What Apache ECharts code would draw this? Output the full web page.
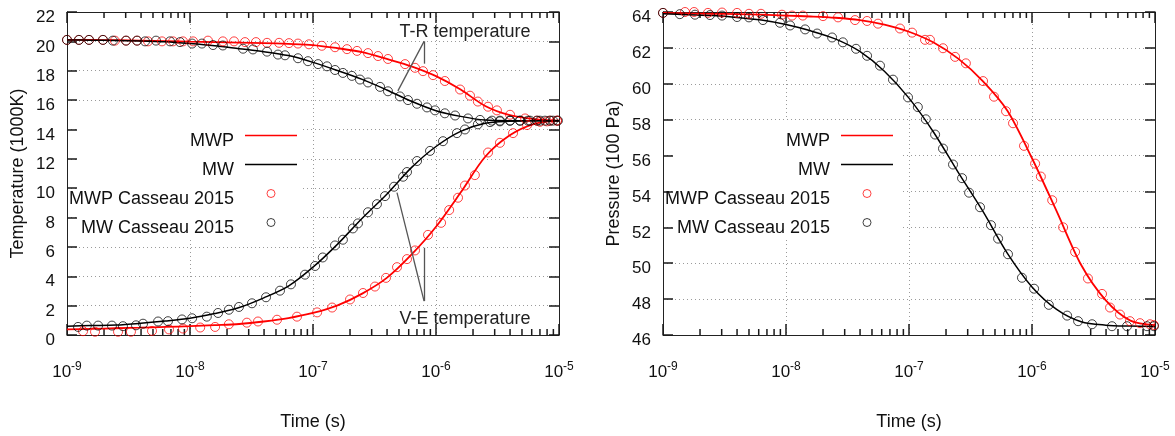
<!DOCTYPE html>
<html>
<head>
<meta charset="utf-8">
<script src="https://cdn.jsdelivr.net/npm/echarts@6/dist/echarts.min.js"></script>
<style>
html, body { margin: 0; padding: 0; background: #fff; }
#chart { width: 1175px; height: 436px; }
</style>
</head>
<body>
<div id="chart"></div>
<script>
// time grid (s) for the model curves
var tLine = [1e-9, 1.585e-9, 2.512e-9, 3.981e-9, 6.31e-9, 1e-8, 1.585e-8, 2.512e-8, 3.981e-8, 6.31e-8,
    1e-7, 1.585e-7, 2.512e-7, 3.981e-7, 6.31e-7, 1e-6, 1.585e-6, 2.512e-6, 3.981e-6, 6.31e-6, 1e-5]

// temperatures (1000K)
var trMwp = [20.1, 20.1, 20.08, 20.05, 20.02, 19.98, 19.95, 19.92, 19.88, 19.83, 19.75, 19.53, 19.27, 18.8, 18.3, 17.63, 16.72, 15.6, 14.97, 14.7, 14.6]
var trMw = [20.1, 20.08, 20.06, 20.03, 19.97, 19.85, 19.7, 19.5, 19.3, 19.03, 18.57, 18.01, 17.41, 16.69, 15.92, 15.28, 14.89, 14.64, 14.6, 14.6, 14.6]
var veMwp = [0.38, 0.42, 0.46, 0.5, 0.55, 0.6, 0.67, 0.75, 0.92, 1.15, 1.5, 2.02, 2.82, 3.89, 5.47, 7.37, 9.7, 12.14, 13.6, 14.38, 14.6]
var veMw = [0.6, 0.64, 0.68, 0.8, 0.95, 1.14, 1.46, 1.87, 2.53, 3.33, 4.62, 6.19, 7.95, 9.59, 11.4, 12.84, 13.87, 14.42, 14.56, 14.6, 14.6]

// pressures (100 Pa)
var pMwp = [63.95, 63.92, 63.9, 63.88, 63.85, 63.8, 63.75, 63.68, 63.55, 63.3, 62.9, 62.3, 61.4, 60.15, 58.5, 55.85, 52.9, 49.9, 47.93, 46.8, 46.55]
var pMw = [63.9, 63.85, 63.8, 63.7, 63.55, 63.3, 62.95, 62.5, 61.8, 60.7, 59.2, 57.3, 55.06, 52.9, 50.55, 48.68, 47.43, 46.74, 46.55, 46.5, 46.48]

// Casseau 2015 points [t, value]
var casTrMwp = [[1.0e-9, 20.1], [1.25e-9, 20.1], [1.51e-9, 20.1], [1.96e-9, 20.1], [2.45e-9, 20.05], [3.02e-9, 20.05], [3.71e-9, 20.05], [4.56e-9, 20.0],
    [5.92e-9, 20.0], [7.28e-9, 20.0], [8.77e-9, 20.0], [1.06e-8, 20.0], [1.4e-8, 20.05], [1.85e-8, 20.0], [2.28e-8, 20.0], [2.8e-8, 19.95],
    [3.44e-8, 19.95], [4.23e-8, 19.9], [5.3e-8, 19.9], [6.38e-8, 19.88], [7.55e-8, 19.85], [9.27e-8, 19.8], [1.18e-7, 19.7], [1.51e-7, 19.6],
    [1.89e-7, 19.47], [2.28e-7, 19.35], [2.8e-7, 19.2], [3.38e-7, 19.0], [4.07e-7, 18.8], [5.6e-7, 18.45], [6.75e-7, 18.2], [7.84e-7, 17.97],
    [9.46e-7, 17.7], [1.18e-6, 17.3], [1.57e-6, 16.72], [1.89e-6, 16.3], [2.19e-6, 15.9], [2.65e-6, 15.55], [3.13e-6, 15.3], [4.0e-6, 15.0],
    [5.3e-6, 14.75], [6.62e-6, 14.6], [7.98e-6, 14.55], [9.64e-6, 14.6]]
var casTrMw = [[1.0e-9, 20.1], [1.25e-9, 20.1], [1.51e-9, 20.1], [1.96e-9, 20.1], [2.36e-9, 20.05], [3.02e-9, 20.05], [3.71e-9, 20.05], [4.31e-9, 20.0],
    [5.29e-9, 20.05], [6.88e-9, 20.0], [8.29e-9, 19.95], [1.04e-8, 19.85], [1.25e-8, 19.85], [1.54e-8, 19.75], [1.85e-8, 19.72], [2.7e-8, 19.5],
    [3.25e-8, 19.45], [4.23e-8, 19.3], [5.19e-8, 19.1], [5.92e-8, 19.05], [7.55e-8, 18.85], [9.1e-8, 18.65], [1.1e-7, 18.45], [1.3e-7, 18.3],
    [1.51e-7, 18.05], [1.75e-7, 17.85], [2.07e-7, 17.65], [2.41e-7, 17.4], [2.8e-7, 17.2], [3.51e-7, 16.9], [4.07e-7, 16.6], [5.09e-7, 16.25],
    [5.92e-7, 16.0], [7.01e-7, 15.75], [8.45e-7, 15.5], [9.82e-7, 15.3], [1.18e-6, 15.1], [1.43e-6, 14.95], [1.82e-6, 14.75], [2.28e-6, 14.65],
    [2.85e-6, 14.6], [3.31e-6, 14.6], [4.0e-6, 14.6], [4.82e-6, 14.6], [5.6e-6, 14.6], [6.62e-6, 14.6], [7.69e-6, 14.6], [8.94e-6, 14.6]]
var casVeMwp = [[1.35e-9, 0.26], [1.69e-9, 0.22], [2.6e-9, 0.22], [3.31e-9, 0.22], [4.91e-9, 0.28], [6.75e-9, 0.38], [8.77e-9, 0.44], [1.21e-8, 0.51],
    [1.6e-8, 0.55], [2.07e-8, 0.73], [2.9e-8, 0.84], [3.57e-8, 0.92], [5.1e-8, 1.04], [7.41e-8, 1.25], [1.08e-7, 1.54], [1.43e-7, 1.87],
    [2.0e-7, 2.42], [2.55e-7, 2.86], [3.19e-7, 3.3], [3.92e-7, 3.89], [4.82e-7, 4.62], [5.81e-7, 5.17], [6.75e-7, 5.76], [8.61e-7, 6.82],
    [1.1e-6, 7.64], [1.28e-6, 8.51], [1.51e-6, 9.35], [1.72e-6, 10.18], [2.07e-6, 10.89], [2.65e-6, 12.43], [3.31e-6, 13.09], [4.23e-6, 13.75],
    [5.5e-6, 14.3], [7.01e-6, 14.52], [8.45e-6, 14.6], [9.64e-6, 14.6]]
var casVeMw = [[1.23e-9, 0.55], [1.45e-9, 0.64], [1.79e-9, 0.64], [2.32e-9, 0.64], [2.85e-9, 0.6], [3.64e-9, 0.66], [4.15e-9, 0.77], [5.5e-9, 0.92],
    [6.62e-9, 0.94], [8.61e-9, 1.06], [1.04e-8, 1.14], [1.37e-8, 1.25], [1.69e-8, 1.5], [2.07e-8, 1.72], [2.5e-8, 1.91], [3.19e-8, 2.16],
    [4.15e-8, 2.57], [5.39e-8, 3.02], [6.62e-8, 3.45], [8.61e-8, 4.11], [1.04e-7, 4.7], [1.2e-7, 5.28], [1.51e-7, 6.1], [1.75e-7, 6.49],
    [2.11e-7, 7.26], [2.32e-7, 7.6], [2.8e-7, 8.36], [3.31e-7, 8.91], [3.85e-7, 9.46], [4.56e-7, 10.1], [5.4e-7, 10.78], [5.81e-7, 11.1],
    [7.01e-7, 11.85], [8.94e-7, 12.54], [1.14e-6, 13.2], [1.48e-6, 13.75], [1.72e-6, 14.0], [2.19e-6, 14.35], [2.75e-6, 14.5], [3.31e-6, 14.55],
    [4.0e-6, 14.6], [4.82e-6, 14.6], [5.81e-6, 14.6], [7.01e-6, 14.6], [8.45e-6, 14.6], [9.8e-6, 14.6]]
var casPMwp = [[1.0e-9, 63.95], [1.51e-9, 64.0], [1.79e-9, 64.0], [2.32e-9, 63.95], [3.02e-9, 63.97], [4.0e-9, 63.95], [5.0e-9, 63.9], [6.26e-9, 63.9],
    [9.27e-9, 63.85], [1.12e-8, 63.8], [1.37e-8, 63.8], [2.0e-8, 63.77], [2.65e-8, 63.7], [3.64e-8, 63.55], [4.56e-8, 63.5], [5.6e-8, 63.35],
    [8.45e-8, 63.08], [1.06e-7, 62.85], [1.35e-7, 62.45], [1.48e-7, 62.45], [1.89e-7, 61.98], [2.37e-7, 61.5], [2.9e-7, 61.14], [4.0e-7, 60.15],
    [4.91e-7, 59.28], [6.15e-7, 58.47], [7.01e-7, 57.8], [8.61e-7, 56.54], [1.06e-6, 55.55], [1.18e-6, 54.83], [1.46e-6, 53.51], [1.79e-6, 52.0],
    [2.24e-6, 50.63], [2.85e-6, 49.15], [3.71e-6, 48.29], [4.31e-6, 47.53], [5.19e-6, 47.14], [6.26e-6, 46.77], [7.55e-6, 46.66], [9.1e-6, 46.6],
    [9.8e-6, 46.55]]
var casPMw = [[1.0e-9, 63.95], [1.37e-9, 63.88], [1.82e-9, 63.85], [2.41e-9, 63.83], [3.02e-9, 63.8], [4.0e-9, 63.72], [5.0e-9, 63.7], [6.5e-9, 63.55],
    [8.93e-9, 63.4], [1.08e-8, 63.25], [1.43e-8, 63.03], [1.79e-8, 62.8], [2.37e-8, 62.58], [2.9e-8, 62.31], [3.71e-8, 61.95], [4.56e-8, 61.56],
    [5.81e-8, 61.01], [7.41e-8, 60.23], [9.82e-8, 59.24], [1.18e-7, 58.7], [1.37e-7, 58.02], [1.63e-7, 57.17], [1.89e-7, 56.39], [2.28e-7, 55.5],
    [2.7e-7, 54.74], [3.08e-7, 53.93], [3.78e-7, 53.12], [4.64e-7, 52.12], [5.3e-7, 51.37], [6.38e-7, 50.5], [8.29e-7, 49.19], [1.04e-6, 48.58],
    [1.37e-6, 47.68], [1.93e-6, 47.08], [2.37e-6, 46.77], [3.08e-6, 46.6], [4.47e-6, 46.49], [5.92e-6, 46.49], [8.61e-6, 46.49], [9.8e-6, 46.49]]

var lineNames = ['MWP', 'MW']
var pointNames = ['MWP Casseau 2015', 'MW Casseau 2015']

// tick positions on the time axes
var majorTicks = [1e-9, 1e-8, 1e-7, 1e-6, 1e-5]
var minorTicks = []
for (var e = -9; e < -5; e++) {
    for (var k = 2; k < 10; k++) {
        minorTicks.push(k * Math.pow(10, e))
    }
}

var FONT = 'Liberation Sans'
var RED = '#ff0000'
var BLACK = '#000000'
var INK = '#111'
var TICK = '#1a1a1a'

function gridLine () {
    return { show: true, lineStyle: { color: '#9a9a9a', type: [1, 3], width: 1 } }
}

function pairs (ts, vs) {
    return ts.map(function (t, i) { return [t, vs[i]] })
}

function timeAxis (gi, pos) {
    var main = pos === 'bottom'
    return {
        type: 'log', gridIndex: gi, position: pos, min: 1e-9, max: 1e-5, logBase: 10,
        axisLine: { onZero: false, lineStyle: { color: '#222', width: 1 } },
        axisTick: { show: false },
        splitLine: main ? gridLine() : { show: false },
        axisLabel: {
            show: main, margin: 26, color: INK,
            formatter: function (v) {
                return '{b|10}{s|' + Math.round(Math.log10(v)) + '}'
            },
            rich: {
                b: { fontSize: 17, fontFamily: FONT, color: INK, lineHeight: 22 },
                s: { fontSize: 12, fontFamily: FONT, color: INK, verticalAlign: 'top', lineHeight: 12 }
            }
        },
        name: main ? 'Time (s)' : '',
        nameLocation: 'middle', nameGap: 78,
        nameTextStyle: { fontSize: 18, fontFamily: FONT, color: INK }
    }
}

function valueAxis (gi, pos, lo, hi, title) {
    var main = pos === 'left'
    return {
        type: 'value', gridIndex: gi, position: pos, min: lo, max: hi, interval: 2,
        axisLine: { show: true, onZero: false, lineStyle: { color: '#222', width: 1 } },
        axisTick: { show: true, inside: true, length: 10, lineStyle: { color: TICK, width: 1.5 } },
        splitLine: main ? gridLine() : { show: false },
        axisLabel: {
            show: main, margin: 12,
            // gnuplot sets its numbers a little below the tick
            formatter: function (v) { return '{g|}{v|' + v + '}' },
            rich: {
                g: { lineHeight: 28, width: 0 },
                v: { fontSize: 17, fontFamily: FONT, color: INK, lineHeight: 18, verticalAlign: 'bottom' }
            }
        },
        name: main ? title : '',
        nameLocation: 'middle', nameGap: 40,
        nameTextStyle: { fontSize: 18, fontFamily: FONT, color: INK }
    }
}

function modelLine (name, data, color, xi) {
    return {
        name: name, type: 'line', xAxisIndex: xi, yAxisIndex: xi, data: data,
        showSymbol: false, symbol: 'none', smooth: 0.3,
        lineStyle: { color: color, width: color === RED ? 1.8 : 1.5 },
        itemStyle: { color: color },
        silent: true, z: 3
    }
}

function casseau (name, data, color, xi) {
    return {
        name: name, type: 'scatter', xAxisIndex: xi, yAxisIndex: xi, data: data,
        symbol: 'circle', symbolSize: 9,
        itemStyle: { color: 'none', borderColor: color, borderWidth: 1, opacity: 0.75 },
        silent: true, z: 4
    }
}

// ticks on the log time axes, at bottom and top, pointing inward
function tickSeries (xi, lo, hi, values, len) {
    return {
        type: 'custom', xAxisIndex: xi, yAxisIndex: xi,
        data: values.map(function (v) { return [v, lo] }),
        encode: { x: 0, y: 1 },
        renderItem: function (params, api) {
            var v = api.value(0)
            var p0 = api.coord([v, lo])
            var p1 = api.coord([v, hi])
            return {
                type: 'group',
                children: [
                    { type: 'line', shape: { x1: p0[0], y1: p0[1], x2: p0[0], y2: p0[1] - len }, style: { stroke: TICK, lineWidth: 1.5 } },
                    { type: 'line', shape: { x1: p1[0], y1: p1[1], x2: p1[0], y2: p1[1] + len }, style: { stroke: TICK, lineWidth: 1.5 } }
                ]
            }
        }
    }
}

// key: icons and labels are two legends so the labels can sit a bit lower, like gnuplot
function legendIcons (right) {
    var lineIcon = 'path://M0,0 H40 V1 H0 Z'
    return {
        orient: 'vertical', align: 'right', right: right, top: 121, padding: 0,
        itemWidth: 52, itemHeight: 8, itemGap: 0, selectedMode: false,
        formatter: function () { return ' ' },
        textStyle: { fontSize: 18, lineHeight: 29 },
        data: [
            { name: lineNames[0], icon: lineIcon },
            { name: lineNames[1], icon: lineIcon },
            { name: pointNames[0], itemStyle: { borderWidth: 1 } },
            { name: pointNames[1], itemStyle: { borderWidth: 1 } }
        ]
    }
}

function legendLabels (right) {
    return {
        orient: 'vertical', align: 'right', right: right + 58, top: 127, padding: 0,
        itemWidth: 52, itemHeight: 7, itemGap: 0, selectedMode: false,
        textStyle: { fontSize: 18, fontFamily: FONT, color: INK, lineHeight: 29 },
        data: lineNames.concat(pointNames).map(function (n) { return { name: n, icon: 'none' } })
    }
}

var ARROW = 'path://M0,0 L0,0 M20,0 L20,0 M10,0 L15,20 L13.8,20 L10,3.5 L6.2,20 L5,20 Z'

var chart = echarts.init(document.getElementById('chart'))
chart.setOption({
    animation: false,
    textStyle: { fontFamily: FONT },
    grid: [
        { left: 67, top: 12, width: 492, height: 333 },
        { left: 663, top: 12, width: 492, height: 333 }
    ],
    xAxis: [timeAxis(0, 'bottom'), timeAxis(0, 'top'), timeAxis(1, 'bottom'), timeAxis(1, 'top')],
    yAxis: [
        valueAxis(0, 'left', 0, 22, 'Temperature (1000K)'),
        valueAxis(0, 'right', 0, 22, ''),
        valueAxis(1, 'left', 46, 64, 'Pressure (100 Pa)'),
        valueAxis(1, 'right', 46, 64, '')
    ],
    legend: [legendIcons(878), legendLabels(878), legendIcons(282), legendLabels(282)],
    // blank the grid behind each key, as gnuplot does
    graphic: {
        elements: [
            { type: 'rect', z: 1, silent: true, shape: { x: 78, y: 120, width: 225, height: 119 }, style: { fill: '#fff' } },
            { type: 'rect', z: 1, silent: true, shape: { x: 674, y: 120, width: 226, height: 119 }, style: { fill: '#fff' } }
        ]
    },
    series: [
        (function () {
            var s = modelLine('MWP', pairs(tLine, trMwp), RED, 0)
            s.markLine = {
                silent: true, symbol: ['none', ARROW], symbolSize: [0, 14],
                label: { show: false },
                lineStyle: { color: '#555', width: 1.3, type: 'solid' },
                data: [
                    [{ coord: [8e-7, 20.0] }, { coord: [4.9e-7, 16.63] }],
                    [{ coord: [8e-7, 20.0] }, { coord: [8e-7, 18.48] }],
                    [{ coord: [8e-7, 2.31] }, { coord: [4.82e-7, 9.7] }],
                    [{ coord: [8e-7, 2.31] }, { coord: [8e-7, 5.94] }]
                ]
            }
            s.markPoint = {
                silent: true, symbol: 'circle', symbolSize: 0,
                label: { show: true, position: 'inside', formatter: '{b}', fontSize: 18, fontFamily: FONT, color: '#222' },
                data: [
                    { name: 'T-R temperature', coord: [1.72e-6, 20.63] },
                    { name: 'V-E temperature', coord: [1.72e-6, 1.1] }
                ]
            }
            return s
        })(),
        modelLine('MWP', pairs(tLine, veMwp), RED, 0),
        modelLine('MW', pairs(tLine, trMw), BLACK, 0),
        modelLine('MW', pairs(tLine, veMw), BLACK, 0),
        casseau('MWP Casseau 2015', casTrMwp, RED, 0),
        casseau('MWP Casseau 2015', casVeMwp, RED, 0),
        casseau('MW Casseau 2015', casTrMw, BLACK, 0),
        casseau('MW Casseau 2015', casVeMw, BLACK, 0),
        tickSeries(0, 0, 22, majorTicks, 11),
        tickSeries(0, 0, 22, minorTicks, 6),

        modelLine('MWP', pairs(tLine, pMwp), RED, 2),
        modelLine('MW', pairs(tLine, pMw), BLACK, 2),
        casseau('MWP Casseau 2015', casPMwp, RED, 2),
        casseau('MW Casseau 2015', casPMw, BLACK, 2),
        tickSeries(2, 46, 64, majorTicks, 11),
        tickSeries(2, 46, 64, minorTicks, 6)
    ]
})
window.addEventListener('resize', function () {
    chart.resize()
})
</script>
</body>
</html>
